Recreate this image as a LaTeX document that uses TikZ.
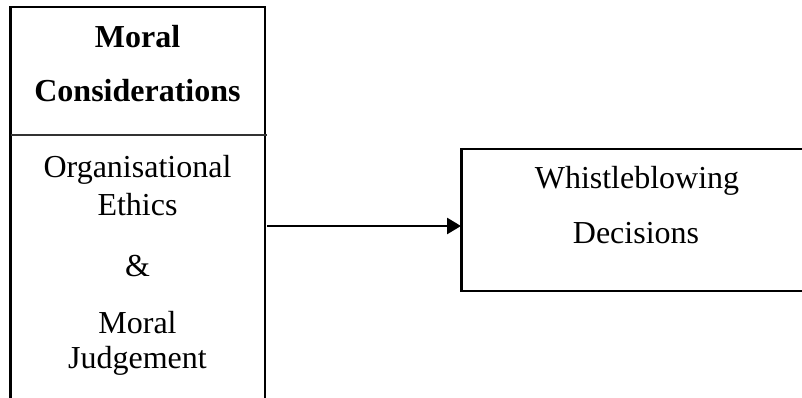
\documentclass[tikz,border=0pt]{standalone}
\usepackage{fontspec}
\setmainfont{Liberation Serif}
\usetikzlibrary{arrows.meta}
\tikzset{
  boxline/.style={line width=2.6pt, line join=miter},
  divline/.style={line width=1.4pt, black!80},
  label/.style={anchor=base, inner sep=0pt, font=\fontsize{32}{38}\selectfont},
  blabel/.style={label, font=\fontsize{32}{38}\selectfont\bfseries},
  flow/.style={line width=2.6pt, -{Triangle[length=14pt,width=16pt]}}
}
\begin{document}
\begin{tikzpicture}[x=1pt,y=-1pt]
\useasboundingbox (0,0) rectangle (802,398);
\clip (0,0) rectangle (802,398);
% left box (open at the bottom)
\coordinate (lbl) at (10.5,400);
\coordinate (ltl) at (10.5,7);
\coordinate (ltr) at (265,7);
\coordinate (lbr) at (265,400);
\draw[boxline] (lbl) -- (ltl) -- (ltr) -- (lbr);
\coordinate (dl) at (10.5,135);
\coordinate (dr) at (267,135);
\draw[divline] (dl) -- (dr);
% right box (open at the right)
\coordinate (rtr) at (804,149);
\coordinate (rtl) at (461.5,149);
\coordinate (rbl) at (461.5,291);
\coordinate (rbr) at (804,291);
\draw[boxline] (rtr) -- (rtl) -- (rbl) -- (rbr);
% texts
\node[blabel] (t1) at (137.5,48) {Moral};
\node[blabel] (t2) at (137.5,102) {Considerations};
\node[label] (t3) at (137.5,178) {Organisational};
\node[label] (t4) at (137.5,215) {Ethics};
\node[label] (t5) at (137.5,276) {\&};
\node[label] (t6) at (137.5,333) {Moral};
\node[label] (t7) at (137.5,368) {Judgement};
\node[label] (w1) at (637,188) {Whistleblowing};
\node[label] (w2) at (636,243) {Decisions};
% connector
\coordinate (from) at (267,226);
\coordinate (to) at (461,226);
\draw[flow] (from) -- (to);
\end{tikzpicture}
\end{document}
